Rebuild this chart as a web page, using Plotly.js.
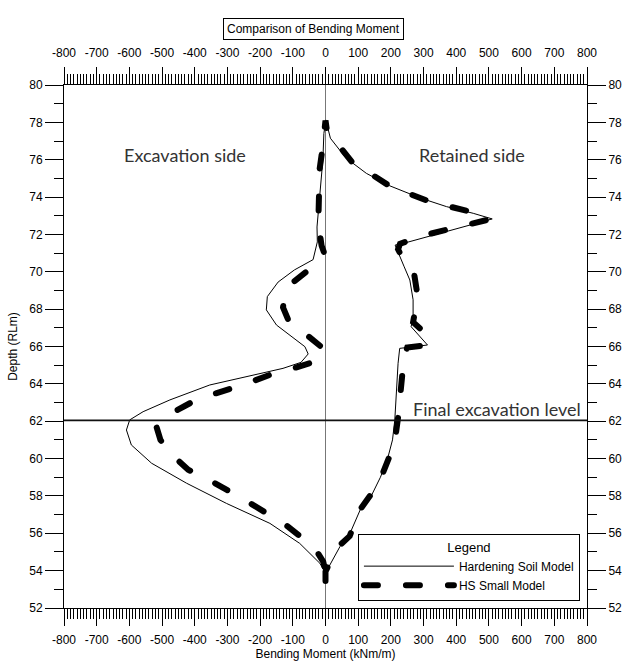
<!DOCTYPE html>
<html>
<head>
<meta charset="utf-8">
<script src="https://cdn.plot.ly/plotly-3.0.1.min.js"></script>
<style>html,body{margin:0;padding:0;background:#fff;}</style>
</head>
<body>
<div id="chart" style="width:628px;height:665px;"></div>
<script>
// ---- data ----
const hsMoment = [0,20,44,75,106,140,168,190,205,212,217,222,227,312,262,268,268,258,240,225,213,238,330,435,510,452,370,290,197,125,62,15,1,
  -5,-8,-17,-26,-25,-38,-95,-145,-178,-181,-150,-99,-63,-53,-75,-130,-201,-262,-354,-476,-558,-599,-609,-594,-532,-425,-303,-170,-79,-17,0];
const hsDepth = [53.88,54.5,55.28,56.0,57.25,58.0,59.0,60.0,61.0,62.07,63.67,65.1,65.9,66.08,67.06,67.6,68.5,69.56,70.3,70.9,71.43,71.52,71.97,72.45,72.83,73.13,73.49,73.95,74.6,75.27,76.1,77.15,78.13,
  77.4,76.0,74.2,72.4,71.6,70.65,70.1,69.45,68.67,67.96,67.15,66.44,65.99,65.6,65.15,64.83,64.56,64.3,63.94,63.14,62.51,62.07,61.53,60.73,59.75,58.68,57.6,56.53,55.46,54.39,53.86];

const hssMoment = [0,0,15,40,74,105,140,175,200,215,222,228,238,240,250,315,300,268,275,280,272,240,222,228,300,370,500,470,390,320,200,130,80,30,5,0,
  -3,-10,-18,-22,-22,-12,-5,-30,-65,-97,-124,-130,-114,-73,-30,-7,-5,-30,-105,-160,-260,-390,-481,-517,-505,-470,-420,-350,-234,-122,-60,-22,-7,0,0];
const hssDepth = [53.45,53.95,54.5,55.3,55.85,57.25,58.1,59.2,60.3,61.3,62.2,63.3,64.3,65.4,65.95,66.08,66.8,67.3,68.0,68.9,69.8,70.6,71.2,71.5,71.95,72.25,72.8,73.1,73.45,73.75,74.55,75.3,75.9,77.0,77.5,78.1,
  77.5,76.5,75.5,74.0,72.6,71.4,71.05,70.4,69.95,69.47,68.76,68.1,67.42,66.8,66.25,65.9,65.55,65.2,64.8,64.55,63.9,63.2,62.33,61.7,61.0,60.2,59.4,58.8,57.65,56.45,55.6,54.9,54.48,53.95,53.45];

const excavationLevel = 62.05;
const momentRange = [-800, 800];
const depthRange = [52, 80];
const xTickVals = [-800,-700,-600,-500,-400,-300,-200,-100,0,100,200,300,400,500,600,700,800];
const xTickText = ["-800","-700","-600","-500","-400","-300","-200","-100","0","100","200","300","400","500","600","700","800"];
const yTickVals = [52,54,56,58,60,62,64,66,68,70,72,74,76,78,80];
const yTickText = ["52","54","56","58","60","62","64","66","68","70","72","74","76","78","80"];
const seriesNames = ["Hardening Soil Model", "HS Small Model"];

// ---- traces ----
const traces = [
  {x: hssMoment, y: hssDepth, type: 'scatter', mode: 'lines', name: seriesNames[1], legendrank: 2,
   line: {color: '#000', width: 6, dash: '14px,28px'}, hoverinfo: 'skip'},
  {x: hsMoment, y: hsDepth, type: 'scatter', mode: 'lines', name: seriesNames[0], legendrank: 1,
   line: {color: '#000', width: 1}, hoverinfo: 'skip'},
  {x: momentRange, y: [excavationLevel, excavationLevel], xaxis: 'x2', yaxis: 'y2', type: 'scatter', mode: 'lines',
   showlegend: false, line: {color: '#111', width: 1.8}, hoverinfo: 'skip'}
];

const tickFont = {family: 'Liberation Sans, Arial, sans-serif', size: 12, color: '#000'};
const xCommon = {
  range: momentRange, tickmode: 'array', tickvals: xTickVals, ticktext: xTickText,
  ticks: 'outside', ticklen: 17, tickwidth: 1, tickcolor: '#000',
  minor: {dtick: 10, tick0: 0, ticks: 'outside', ticklen: 10, tickwidth: 1, tickcolor: '#000'},
  showgrid: false, showline: true, linecolor: '#000', linewidth: 1, tickfont: tickFont
};
const yCommon = {
  range: depthRange, tickmode: 'array', tickvals: yTickVals, ticktext: yTickText,
  ticks: 'outside', ticklen: 18, tickwidth: 1, tickcolor: '#000',
  minor: {dtick: 1, tick0: 0, ticks: 'outside', ticklen: 9, tickwidth: 1, tickcolor: '#000'},
  showgrid: false, showline: true, linecolor: '#000', linewidth: 1, tickfont: tickFont, zeroline: false
};

const annFont = {family: 'Lato, Open Sans, sans-serif', size: 18, color: '#333'};
const layout = {
  width: 628, height: 665,
  margin: {l: 64, r: 41, t: 85, b: 57, pad: 0},
  paper_bgcolor: '#fff', plot_bgcolor: '#fff',
  font: {family: 'Liberation Sans, Arial, sans-serif', size: 12, color: '#000'},
  xaxis: Object.assign({}, xCommon, {
    side: 'bottom', zeroline: true, zerolinecolor: '#777', zerolinewidth: 1.5, ticklabelstandoff: 4,
    title: {text: 'Bending Moment (kNm/m)', font: {size: 12, color: '#000'}, standoff: 3}
  }),
  xaxis2: Object.assign({}, xCommon, {side: 'top', overlaying: 'x', anchor: 'y2', zeroline: false, ticklabelstandoff: 5}),
  yaxis: Object.assign({}, yCommon, {side: 'left',
    title: {text: 'Depth (RLm)', font: {size: 12, color: '#000'}, standoff: 9}}),
  yaxis2: Object.assign({}, yCommon, {side: 'right', overlaying: 'y', anchor: 'x'}),
  showlegend: true,
  legend: {
    x: 0.562, y: 0.142, xanchor: 'left', yanchor: 'top',
    bordercolor: '#000', borderwidth: 1, bgcolor: '#fff',
    itemwidth: 90, tracegroupgap: 0,
    title: {text: 'Legend', side: 'top center', font: {size: 13}},
    font: {family: 'Liberation Sans, Arial, sans-serif', size: 12, color: '#000'}
  },
  annotations: [
    {text: 'Comparison of Bending Moment', xref: 'paper', yref: 'paper', x: 0.478, y: 1.128,
     showarrow: false, bordercolor: '#000', borderwidth: 1, borderpad: 3,
     font: {family: 'Liberation Sans, Arial, sans-serif', size: 12, color: '#000'}},
    {text: 'Excavation side', xref: 'x', yref: 'y', x: -430, y: 76.25, showarrow: false, font: annFont},
    {text: 'Retained side', xref: 'x', yref: 'y', x: 448, y: 76.25, showarrow: false, font: annFont},
    {text: 'Final excavation level', xref: 'x', yref: 'y', x: 525, y: 62.65, showarrow: false, font: annFont}
  ]
};

Plotly.newPlot('chart', traces, layout, {displayModeBar: false, staticPlot: true}).then(function () {
  document.querySelectorAll('#chart path').forEach(function (p) {
    const d = p.style.strokeDasharray;
    if (d && d !== 'none' && d.indexOf('14') === 0) {
      p.style.strokeLinecap = 'round';
    }
  });
});
</script>
</body>
</html>
